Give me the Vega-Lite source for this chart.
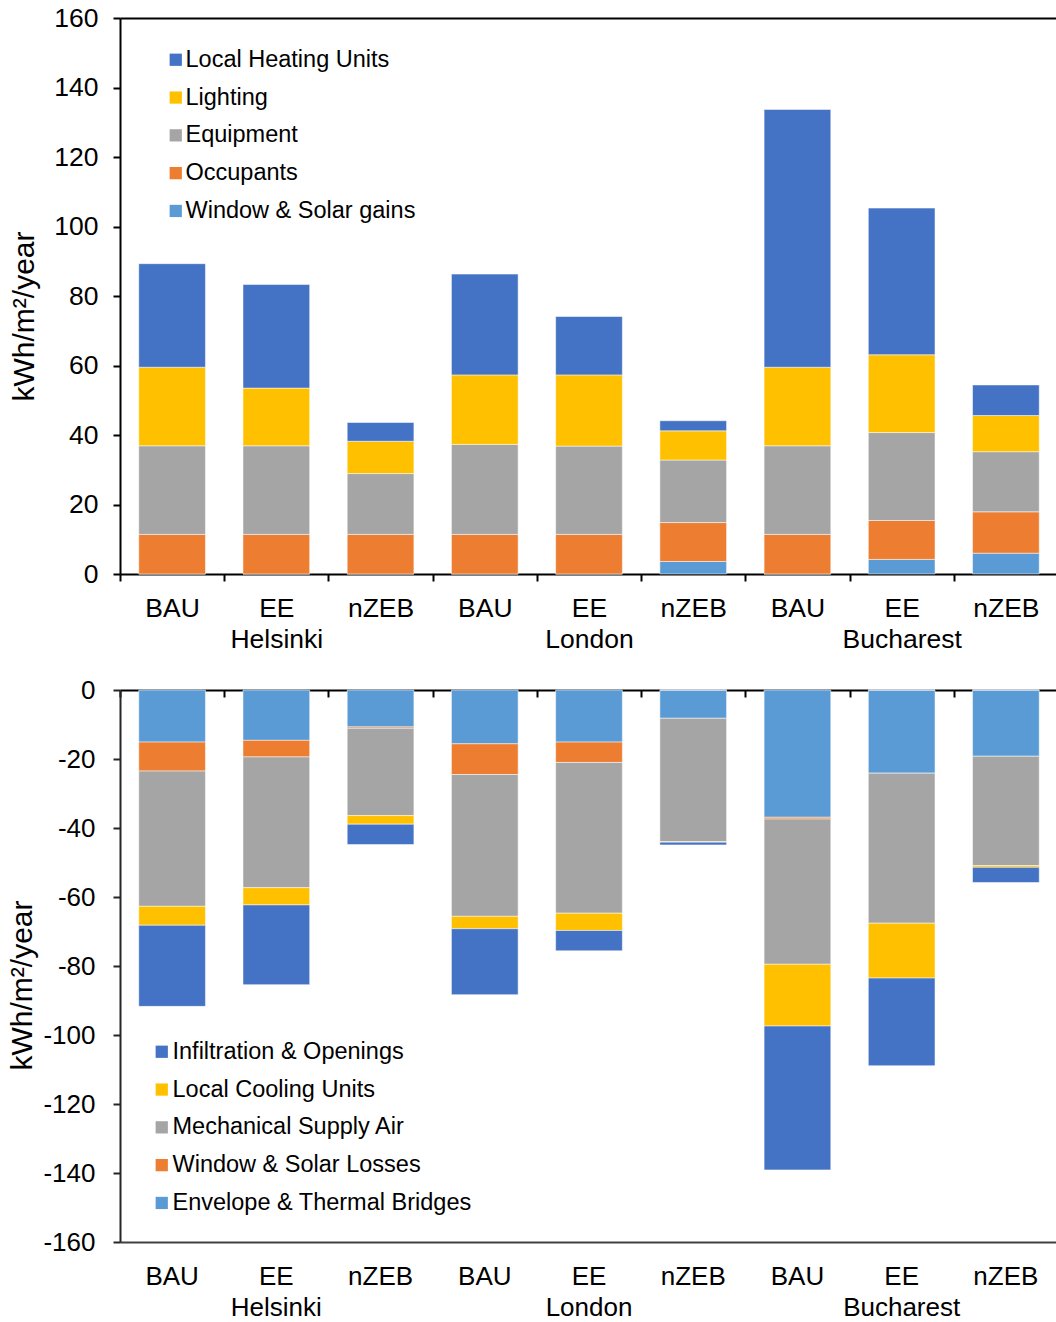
{
  "$schema": "https://vega.github.io/schema/vega-lite/v6.json",
  "padding": {"left": 7, "top": 5, "right": 0, "bottom": 0},
  "config": {
    "font": "Liberation Sans",
    "view": {"stroke": null},
    "axis": {"domainColor": "black", "domainWidth": 2, "tickColor": "black", "tickWidth": 2, "labelColor": "black", "titleColor": "black", "grid": false, "labelFont": "Liberation Sans", "titleFont": "Liberation Sans", "titleFontWeight": "normal"},
    "legend": {"labelFont": "Liberation Sans", "labelColor": "black", "labelLimit": 0}
  },
  "spacing": 24,
  "resolve": {"scale": {"color": "independent", "x": "independent", "y": "independent"}, "legend": {"color": "independent"}},
  "datasets": {
    "gains": [
      {"city": "Helsinki", "scenario": "BAU", "component": "Window & Solar gains", "value": 0},
      {"city": "Helsinki", "scenario": "BAU", "component": "Occupants", "value": 11.4},
      {"city": "Helsinki", "scenario": "BAU", "component": "Equipment", "value": 25.5},
      {"city": "Helsinki", "scenario": "BAU", "component": "Lighting", "value": 22.6},
      {"city": "Helsinki", "scenario": "BAU", "component": "Local Heating Units", "value": 29.8},
      {"city": "Helsinki", "scenario": "EE", "component": "Window & Solar gains", "value": 0},
      {"city": "Helsinki", "scenario": "EE", "component": "Occupants", "value": 11.4},
      {"city": "Helsinki", "scenario": "EE", "component": "Equipment", "value": 25.5},
      {"city": "Helsinki", "scenario": "EE", "component": "Lighting", "value": 16.6},
      {"city": "Helsinki", "scenario": "EE", "component": "Local Heating Units", "value": 29.8},
      {"city": "Helsinki", "scenario": "nZEB", "component": "Window & Solar gains", "value": 0},
      {"city": "Helsinki", "scenario": "nZEB", "component": "Occupants", "value": 11.4},
      {"city": "Helsinki", "scenario": "nZEB", "component": "Equipment", "value": 17.5},
      {"city": "Helsinki", "scenario": "nZEB", "component": "Lighting", "value": 9.3},
      {"city": "Helsinki", "scenario": "nZEB", "component": "Local Heating Units", "value": 5.4},
      {"city": "London", "scenario": "BAU", "component": "Window & Solar gains", "value": 0},
      {"city": "London", "scenario": "BAU", "component": "Occupants", "value": 11.4},
      {"city": "London", "scenario": "BAU", "component": "Equipment", "value": 25.9},
      {"city": "London", "scenario": "BAU", "component": "Lighting", "value": 20.0},
      {"city": "London", "scenario": "BAU", "component": "Local Heating Units", "value": 29.0},
      {"city": "London", "scenario": "EE", "component": "Window & Solar gains", "value": 0},
      {"city": "London", "scenario": "EE", "component": "Occupants", "value": 11.4},
      {"city": "London", "scenario": "EE", "component": "Equipment", "value": 25.4},
      {"city": "London", "scenario": "EE", "component": "Lighting", "value": 20.5},
      {"city": "London", "scenario": "EE", "component": "Local Heating Units", "value": 16.8},
      {"city": "London", "scenario": "nZEB", "component": "Window & Solar gains", "value": 3.6},
      {"city": "London", "scenario": "nZEB", "component": "Occupants", "value": 11.2},
      {"city": "London", "scenario": "nZEB", "component": "Equipment", "value": 18.0},
      {"city": "London", "scenario": "nZEB", "component": "Lighting", "value": 8.4},
      {"city": "London", "scenario": "nZEB", "component": "Local Heating Units", "value": 2.9},
      {"city": "Bucharest", "scenario": "BAU", "component": "Window & Solar gains", "value": 0},
      {"city": "Bucharest", "scenario": "BAU", "component": "Occupants", "value": 11.4},
      {"city": "Bucharest", "scenario": "BAU", "component": "Equipment", "value": 25.5},
      {"city": "Bucharest", "scenario": "BAU", "component": "Lighting", "value": 22.6},
      {"city": "Bucharest", "scenario": "BAU", "component": "Local Heating Units", "value": 74.2},
      {"city": "Bucharest", "scenario": "EE", "component": "Window & Solar gains", "value": 4.2},
      {"city": "Bucharest", "scenario": "EE", "component": "Occupants", "value": 11.2},
      {"city": "Bucharest", "scenario": "EE", "component": "Equipment", "value": 25.3},
      {"city": "Bucharest", "scenario": "EE", "component": "Lighting", "value": 22.4},
      {"city": "Bucharest", "scenario": "EE", "component": "Local Heating Units", "value": 42.2},
      {"city": "Bucharest", "scenario": "nZEB", "component": "Window & Solar gains", "value": 6.0},
      {"city": "Bucharest", "scenario": "nZEB", "component": "Occupants", "value": 11.9},
      {"city": "Bucharest", "scenario": "nZEB", "component": "Equipment", "value": 17.3},
      {"city": "Bucharest", "scenario": "nZEB", "component": "Lighting", "value": 10.4},
      {"city": "Bucharest", "scenario": "nZEB", "component": "Local Heating Units", "value": 8.8}
    ],
    "losses": [
      {"city": "Helsinki", "scenario": "BAU", "component": "Envelope & Thermal Bridges", "value": -15.1},
      {"city": "Helsinki", "scenario": "BAU", "component": "Window & Solar Losses", "value": -8.4},
      {"city": "Helsinki", "scenario": "BAU", "component": "Mechanical Supply Air", "value": -39.2},
      {"city": "Helsinki", "scenario": "BAU", "component": "Local Cooling Units", "value": -5.5},
      {"city": "Helsinki", "scenario": "BAU", "component": "Infiltration & Openings", "value": -23.5},
      {"city": "Helsinki", "scenario": "EE", "component": "Envelope & Thermal Bridges", "value": -14.6},
      {"city": "Helsinki", "scenario": "EE", "component": "Window & Solar Losses", "value": -4.8},
      {"city": "Helsinki", "scenario": "EE", "component": "Mechanical Supply Air", "value": -37.9},
      {"city": "Helsinki", "scenario": "EE", "component": "Local Cooling Units", "value": -5.0},
      {"city": "Helsinki", "scenario": "EE", "component": "Infiltration & Openings", "value": -23.1},
      {"city": "Helsinki", "scenario": "nZEB", "component": "Envelope & Thermal Bridges", "value": -10.7},
      {"city": "Helsinki", "scenario": "nZEB", "component": "Window & Solar Losses", "value": -0.4},
      {"city": "Helsinki", "scenario": "nZEB", "component": "Mechanical Supply Air", "value": -25.3},
      {"city": "Helsinki", "scenario": "nZEB", "component": "Local Cooling Units", "value": -2.5},
      {"city": "Helsinki", "scenario": "nZEB", "component": "Infiltration & Openings", "value": -5.9},
      {"city": "London", "scenario": "BAU", "component": "Envelope & Thermal Bridges", "value": -15.6},
      {"city": "London", "scenario": "BAU", "component": "Window & Solar Losses", "value": -8.9},
      {"city": "London", "scenario": "BAU", "component": "Mechanical Supply Air", "value": -41.1},
      {"city": "London", "scenario": "BAU", "component": "Local Cooling Units", "value": -3.6},
      {"city": "London", "scenario": "BAU", "component": "Infiltration & Openings", "value": -19.1},
      {"city": "London", "scenario": "EE", "component": "Envelope & Thermal Bridges", "value": -15.1},
      {"city": "London", "scenario": "EE", "component": "Window & Solar Losses", "value": -5.9},
      {"city": "London", "scenario": "EE", "component": "Mechanical Supply Air", "value": -43.7},
      {"city": "London", "scenario": "EE", "component": "Local Cooling Units", "value": -5.0},
      {"city": "London", "scenario": "EE", "component": "Infiltration & Openings", "value": -5.9},
      {"city": "London", "scenario": "nZEB", "component": "Envelope & Thermal Bridges", "value": -8.2},
      {"city": "London", "scenario": "nZEB", "component": "Window & Solar Losses", "value": 0},
      {"city": "London", "scenario": "nZEB", "component": "Mechanical Supply Air", "value": -35.8},
      {"city": "London", "scenario": "nZEB", "component": "Local Cooling Units", "value": -0.1},
      {"city": "London", "scenario": "nZEB", "component": "Infiltration & Openings", "value": -0.8},
      {"city": "Bucharest", "scenario": "BAU", "component": "Envelope & Thermal Bridges", "value": -36.9},
      {"city": "Bucharest", "scenario": "BAU", "component": "Window & Solar Losses", "value": -0.5},
      {"city": "Bucharest", "scenario": "BAU", "component": "Mechanical Supply Air", "value": -42.1},
      {"city": "Bucharest", "scenario": "BAU", "component": "Local Cooling Units", "value": -17.9},
      {"city": "Bucharest", "scenario": "BAU", "component": "Infiltration & Openings", "value": -41.7},
      {"city": "Bucharest", "scenario": "EE", "component": "Envelope & Thermal Bridges", "value": -24.1},
      {"city": "Bucharest", "scenario": "EE", "component": "Window & Solar Losses", "value": 0},
      {"city": "Bucharest", "scenario": "EE", "component": "Mechanical Supply Air", "value": -43.5},
      {"city": "Bucharest", "scenario": "EE", "component": "Local Cooling Units", "value": -15.9},
      {"city": "Bucharest", "scenario": "EE", "component": "Infiltration & Openings", "value": -25.4},
      {"city": "Bucharest", "scenario": "nZEB", "component": "Envelope & Thermal Bridges", "value": -19.2},
      {"city": "Bucharest", "scenario": "nZEB", "component": "Window & Solar Losses", "value": 0},
      {"city": "Bucharest", "scenario": "nZEB", "component": "Mechanical Supply Air", "value": -31.7},
      {"city": "Bucharest", "scenario": "nZEB", "component": "Local Cooling Units", "value": -0.5},
      {"city": "Bucharest", "scenario": "nZEB", "component": "Infiltration & Openings", "value": -4.4}
    ]
  },
  "vconcat": [
    {
      "data": {"name": "gains"},
      "transform": [
        {"calculate": "datum.city + '|' + datum.scenario", "as": "key"},
        {"calculate": "indexof(['Window & Solar gains','Occupants','Equipment','Lighting','Local Heating Units'], datum.component)", "as": "stackOrder"}
      ],
      "width": 938,
      "height": 556,
      "layer": [
        {
          "mark": {"type": "bar", "width": {"band": 0.64}, "stroke": "white", "strokeWidth": 1, "strokeOpacity": 0.5},
          "encoding": {
            "x": {
              "field": "key", "type": "nominal",
              "sort": ["Helsinki|BAU", "Helsinki|EE", "Helsinki|nZEB", "London|BAU", "London|EE", "London|nZEB", "Bucharest|BAU", "Bucharest|EE", "Bucharest|nZEB"],
              "scale": {"paddingInner": 0, "paddingOuter": 0},
              "axis": {
                "orient": "bottom", "title": null, "labelAngle": 0,
                "labelExpr": "split(datum.label, '|')[1] == 'EE' ? [split(datum.label, '|')[1], split(datum.label, '|')[0]] : split(datum.label, '|')[1]",
                "tickBand": "extent", "tickSize": 7, "labelPadding": 14,
                "labelFontSize": 26.5, "labelLineHeight": 31
              }
            },
            "y": {
              "field": "value", "type": "quantitative", "stack": "zero",
              "scale": {"domain": [0, 160], "nice": false},
              "axis": {
                "title": "kWh/m²/year", "values": [0, 20, 40, 60, 80, 100, 120, 140, 160],
                "labelExpr": "'' + datum.value",
                "tickSize": 7, "labelPadding": 15, "labelFontSize": 26.5,
                "titleFontSize": 30, "titlePadding": 14, "titleY": 298
              }
            },
            "color": {
              "field": "component", "type": "nominal",
              "scale": {
                "domain": ["Local Heating Units", "Lighting", "Equipment", "Occupants", "Window & Solar gains"],
                "range": ["#4472C4", "#FFC000", "#A5A5A5", "#ED7D31", "#5B9BD5"]
              },
              "legend": {
                "title": null, "orient": "none", "legendX": 44, "legendY": 30,
                "symbolType": "square", "symbolSize": 150, "symbolStrokeWidth": 0,
                "labelFontSize": 23.5, "rowPadding": 12.8, "labelOffset": -2, "padding": 0
              }
            },
            "order": {"field": "stackOrder", "type": "quantitative"}
          }
        },
        {
          "mark": {"type": "bar", "opacity": 0},
          "encoding": {
            "x": {
              "field": "key", "type": "nominal",
              "sort": ["Helsinki|BAU", "Helsinki|EE", "Helsinki|nZEB", "London|BAU", "London|EE", "London|nZEB", "Bucharest|BAU", "Bucharest|EE", "Bucharest|nZEB"],
              "axis": {"orient": "top", "title": null, "labels": false, "ticks": false}
            }
          }
        }
      ],
      "resolve": {"axis": {"x": "independent"}}
    },
    {
      "data": {"name": "losses"},
      "transform": [
        {"calculate": "datum.city + '|' + datum.scenario", "as": "key"},
        {"calculate": "indexof(['Envelope & Thermal Bridges','Window & Solar Losses','Mechanical Supply Air','Local Cooling Units','Infiltration & Openings'], datum.component)", "as": "stackOrder"}
      ],
      "width": 938,
      "height": 552,
      "layer": [
        {
          "mark": {"type": "bar", "width": {"band": 0.64}, "stroke": "white", "strokeWidth": 1, "strokeOpacity": 0.5},
          "encoding": {
            "x": {
              "field": "key", "type": "nominal",
              "sort": ["Helsinki|BAU", "Helsinki|EE", "Helsinki|nZEB", "London|BAU", "London|EE", "London|nZEB", "Bucharest|BAU", "Bucharest|EE", "Bucharest|nZEB"],
              "scale": {"paddingInner": 0, "paddingOuter": 0},
              "axis": {
                "orient": "bottom", "title": null, "labelAngle": 0,
                "labelExpr": "split(datum.label, '|')[1] == 'EE' ? [split(datum.label, '|')[1], split(datum.label, '|')[0]] : split(datum.label, '|')[1]",
                "ticks": false, "tickSize": 0, "labelPadding": 21, "domainColor": "#404040",
                "labelFontSize": 26, "labelLineHeight": 31
              }
            },
            "y": {
              "field": "value", "type": "quantitative", "stack": "zero",
              "scale": {"domain": [-160, 0], "nice": false},
              "axis": {
                "title": "kWh/m²/year", "values": [-160, -140, -120, -100, -80, -60, -40, -20, 0],
                "labelExpr": "'' + datum.value",
                "tickSize": 7, "labelPadding": 18, "labelFontSize": 26, "domainColor": "#262626", "tickColor": "#262626",
                "titleFontSize": 30, "titlePadding": 5, "titleY": 295
              }
            },
            "color": {
              "field": "component", "type": "nominal",
              "scale": {
                "domain": ["Infiltration & Openings", "Local Cooling Units", "Mechanical Supply Air", "Window & Solar Losses", "Envelope & Thermal Bridges"],
                "range": ["#4472C4", "#FFC000", "#A5A5A5", "#ED7D31", "#5B9BD5"]
              },
              "legend": {
                "title": null, "orient": "none", "legendX": 30, "legendY": 350,
                "symbolType": "square", "symbolSize": 150, "symbolStrokeWidth": 0,
                "labelFontSize": 23.5, "rowPadding": 12.8, "labelOffset": -1, "padding": 0
              }
            },
            "order": {"field": "stackOrder", "type": "quantitative"}
          }
        },
        {
          "mark": {"type": "bar", "opacity": 0},
          "encoding": {
            "x": {
              "field": "key", "type": "nominal",
              "sort": ["Helsinki|BAU", "Helsinki|EE", "Helsinki|nZEB", "London|BAU", "London|EE", "London|nZEB", "Bucharest|BAU", "Bucharest|EE", "Bucharest|nZEB"],
              "axis": {"orient": "top", "title": null, "labels": false, "tickBand": "extent", "tickSize": -7}
            }
          }
        }
      ],
      "resolve": {"axis": {"x": "independent"}}
    }
  ]
}
